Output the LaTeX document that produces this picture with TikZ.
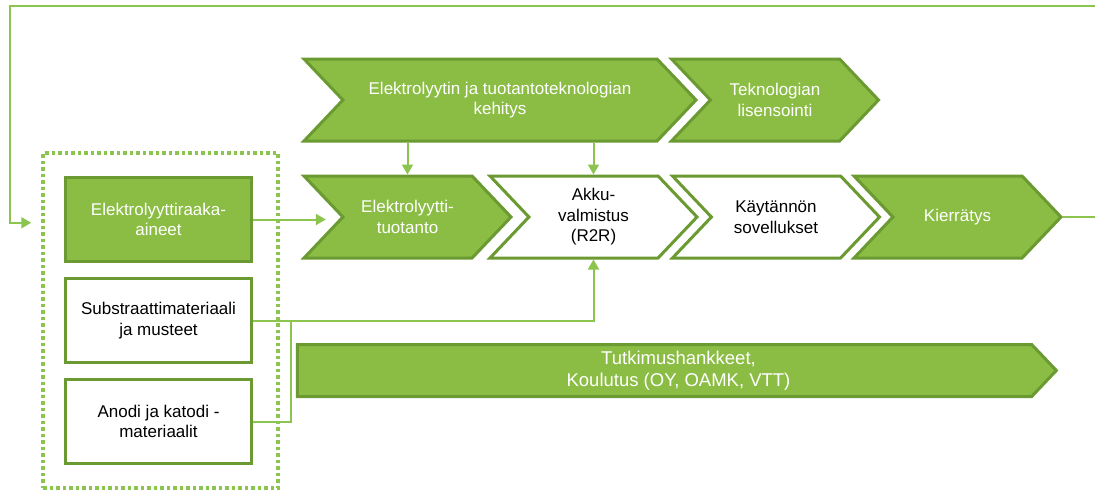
\documentclass[tikz,border=0pt]{standalone}
\usepackage{fontspec}
\setmainfont{Liberation Sans}
\usetikzlibrary{arrows.meta, positioning, shapes.symbols, fit, calc}

\definecolor{leaf}{HTML}{8BBD44}
\definecolor{leafdark}{HTML}{6A9A31}
\definecolor{leaflight}{HTML}{8CC450}

\begin{document}
\begin{tikzpicture}[
    x=1pt, y=1pt,
    node distance=14pt,
    chev/.style={signal, signal from=west, signal to=east, signal pointer angle=93,
                 draw=leafdark, line width=3pt, fill=leaf, text=white,
                 minimum width=207pt, minimum height=82pt, inner sep=0pt,
                 align=center, font=\fontsize{17}{20.5}\selectfont},
    chevw/.style={chev, fill=white, text=black},
    block/.style={rectangle, draw=leafdark, line width=3pt, fill=leaf, text=white,
                  minimum width=186pt, minimum height=84pt, inner sep=0pt,
                  align=center, font=\fontsize{17}{20.5}\selectfont},
    blockw/.style={block, fill=white, text=black},
    bartext/.style={text=white, align=center, font=\fontsize{18.5}{22}\selectfont},
    group/.style={draw=leaflight, line width=3.5pt, dash pattern=on 3.5pt off 3pt,
                  inner xsep=23pt, inner ysep=23pt, xshift=2pt},
    flow/.style={draw=leaflight, line width=2pt},
    arrow/.style={flow, -{Triangle[length=10pt,width=11pt]}}
]
\path[use as bounding box, clip] (0,0) rectangle (1095,-493);

% ---- Top row: development and licensing ----
\node[chev, minimum width=392pt] (kehitys) at (500,-100) {Elektrolyytin ja tuotantoteknologian\\kehitys};
\node[chev] (lisens) at (775,-100) {Teknologian\\lisensointi};

% ---- Value chain ----
\node[chev]  (tuot)   at (407.5,-217) {Elektrolyytti-\\tuotanto};
\node[chevw] (akku)   at (593.5,-217) {Akku-\\valmistus\\(R2R)};
\node[chevw] (kaytto) at (776,-217)   {Käytännön\\sovellukset};
\node[chev]  (kierr)  at (957.5,-217) {Kierrätys};

% ---- Research bar (text sits right of the box centre) ----
\node[chev, signal from=nowhere, minimum width=759pt, minimum height=52pt,
      label={[bartext, xshift=14pt]center:{Tutkimushankkeet,\\Koulutus (OY, OAMK, VTT)}}]
      (tutk) at (664.5,-370.5) {};

% ---- Raw materials (left column) ----
\node[block] (raaka) at (158.5,-219.5) {Elektrolyyttiraaka-\\aineet};
\node[blockw, below=of raaka] (subst) {Substraattimateriaali\\ja musteet};
\node[blockw, below=of subst] (anodi) {Anodi ja katodi -\\materiaalit};
\node[group, fit=(raaka)(anodi)] (ryhma) {};

% ======== Connectors ========
\draw[arrow, shorten >=15pt] (raaka.east) -- (raaka.east -| tuot.west);
\draw[arrow] (kehitys.south -| tuot.north) -- (tuot.north);
\draw[arrow] (kehitys.south -| akku.north) -- (akku.north);

\coordinate (liitos) at ($(subst.east)+(38,0)$);
\draw[arrow] (subst.east) -| (akku.south);
\draw[flow] (anodi.east) -| (liitos);

% ======== Recycling loop back to raw materials ========
\coordinate (ylaoik) at (1115,-6);
\coordinate (ylavas) at (10,-6);
\coordinate (paluu) at ($(ryhma.north west)+(0,-71.5)$);
\draw[arrow, shorten >=10pt] (kierr.east) -| (ylaoik) -- (ylavas) |- (paluu);

\end{tikzpicture}
\end{document}
